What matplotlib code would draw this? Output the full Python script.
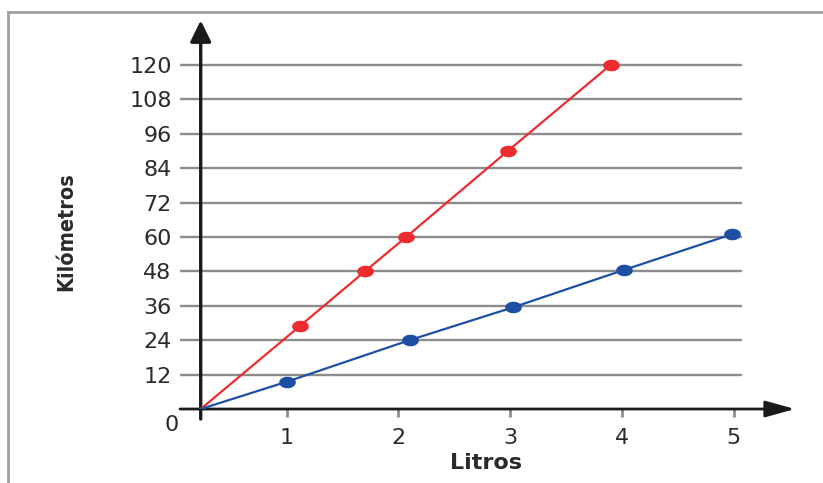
import numpy as np
import matplotlib.pyplot as plt
from matplotlib.path import Path
from matplotlib.lines import Line2D

# datos
litros_rojo = [0.23, 1.12, 1.70, 2.07, 2.98, 3.90]
km_rojo = [0, 29, 48, 60, 90, 120]
litros_azul = [0.23, 1.00, 2.10, 3.03, 4.02, 4.99]
km_azul = [0, 9.5, 24, 35.5, 48.5, 61]
ticks_x = [1, 2, 3, 4, 5]
ticks_y = [12, 24, 36, 48, 60, 72, 84, 96, 108, 120]

ROJO = "#ee2b2f"
AZUL = "#1d50a2"
TXT = "#2a2a2a"
GRIS = "#8c8c8c"

# marcador elíptico (puntos más anchos que altos)
t = np.linspace(0, 2 * np.pi, 40)
elipse = Path(np.column_stack([1.5 * np.cos(t), np.sin(t)]))

fig = plt.figure(figsize=(8.23, 4.83), dpi=100)
ax = fig.add_axes([0.2086, 0.1532, 0.7641, 0.8075])
ax.set_xlim(-0.03, 5.6)
ax.set_ylim(0, 136)
for s in ax.spines.values():
    s.set_visible(False)

# líneas de cuadrícula
ax.hlines(ticks_y, 0.045, 5.08, color=GRIS, lw=1.7, zorder=1)

# ejes con flecha
ax.annotate("", xy=(5.55, 0), xytext=(0.045, 0),
            arrowprops=dict(arrowstyle="-|>,head_length=0.9,head_width=0.25",
                            color="#1a1a1a", lw=2, shrinkA=0, shrinkB=0,
                            mutation_scale=20), annotation_clip=False, zorder=3)
ax.annotate("", xy=(0.23, 135.5), xytext=(0.23, -3.5),
            arrowprops=dict(arrowstyle="-|>,head_length=0.65,head_width=0.32",
                            color="#1a1a1a", lw=2.4, shrinkA=0, shrinkB=0,
                            mutation_scale=20), annotation_clip=False, zorder=3)

ax.plot(litros_rojo, km_rojo, color=ROJO, lw=1.6, zorder=4)
ax.plot(litros_rojo[1:], km_rojo[1:], ls="none", marker=elipse, ms=11, color=ROJO, zorder=5)
ax.plot(litros_azul, km_azul, color=AZUL, lw=1.6, zorder=4)
ax.plot(litros_azul[1:], km_azul[1:], ls="none", marker=elipse, ms=11, color=AZUL, zorder=5)

ax.set_xticks(ticks_x)
ax.set_xticklabels([str(v) for v in ticks_x])
ax.set_yticks(ticks_y)
ax.set_yticklabels([str(v) for v in ticks_y])
ax.tick_params(axis="x", length=6, width=2, color=GRIS, pad=8, labelsize=16, labelcolor=TXT)
ax.tick_params(axis="y", length=0, pad=0, labelsize=16, labelcolor=TXT)

ax.text(-0.03, -2, "0", ha="center", va="top", fontsize=16, color=TXT)
ax.set_xlabel("Litros", fontsize=16, fontweight="semibold", color=TXT, labelpad=3)
fig.text(0.08, 0.52, "Kilómetros", rotation=90, ha="center", va="center",
         fontsize=15.5, color=TXT, fontstretch="condensed", fontweight="semibold",
         family="DejaVu Sans")

# marco gris de la imagen
fig.add_artist(Line2D([0.01, 1.0], [0.975, 0.975], color="#a0a0a0", lw=2))
fig.add_artist(Line2D([0.01, 0.01], [0.0, 0.975], color="#a0a0a0", lw=2))

fig.savefig("out.png", dpi=100, facecolor="white")
